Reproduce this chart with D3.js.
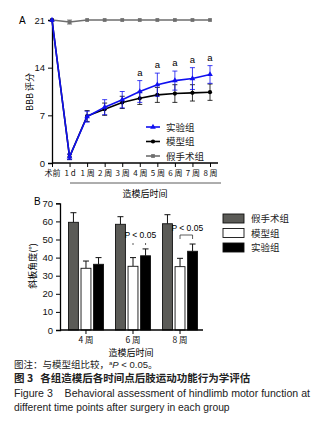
<!DOCTYPE html>
<html>
<head>
<meta charset="utf-8">
<script src="https://cdn.jsdelivr.net/npm/d3@7"></script>
<style>
  body { margin: 0; background: #fff; }
  svg { display: block; font-family: "Liberation Sans", Arial, "Noto Sans CJK SC", sans-serif; }
</style>
</head>
<body>
<div id="chart"></div>
<script>
// ---- Data: panel A (BBB score)
const timePoints = ["术前", "1 d", "1 周", "2 周", "3 周", "4 周", "5 周", "6 周", "7 周", "8 周"]
const shamScore = [21, 20.7, 21, 21, 21, 21, 21, 21, 21, 21]
const shamErr = [0, 0.3, 0, 0, 0, 0, 0, 0, 0, 0]
const modelScore = [21, 0.9, 6.9, 7.9, 8.9, 9.5, 10.0, 10.2, 10.3, 10.4]
const modelErr = [0, 0.4, 0.8, 0.9, 0.9, 0.9, 1.1, 1.3, 1.2, 1.2]
const expScore = [21, 0.9, 6.8, 8.2, 9.3, 10.5, 11.5, 12.1, 12.4, 13.0]
const expErr = [0, 0.4, 0.8, 1.1, 1.2, 1.6, 1.7, 1.4, 1.6, 1.3]
const sigMarks = ["", "", "", "", "", "a", "a", "a", "a", "a"]
const scoreTicks = [0, 7, 14, 21]

// ---- Data: panel B (inclined plane angle)
const weeks = ["4 周", "6 周", "8 周"]
const barGroups = ["假手术组", "模型组", "实验组"]
const shamAngle = [59.5, 58.4, 58.7]
const shamAngleErr = [5.3, 4.2, 5.0]
const modelAngle = [34.1, 35.2, 35.0]
const modelAngleErr = [4.0, 4.8, 4.6]
const expAngle = [36.3, 41.0, 43.5]
const expAngleErr = [3.7, 3.8, 4.0]
const angleTicks = [0, 10, 20, 30, 40, 50, 60, 70]

const cjk = '"Noto Sans CJK SC", sans-serif'
const svg = d3.select("#chart").append("svg")
    .attr("width", 331)
    .attr("height", 441)

// ================= Panel A =================
const xA = d3.scalePoint().domain(timePoints).range([52, 210])
const yA = d3.scaleLinear().domain([0, 21]).range([163, 20])

const gA = svg.append("g")

gA.append("text").attr("x", 19).attr("y", 24).style("font-size", "10px").text("A")

// y axis
gA.append("g")
    .attr("transform", "translate(52,0)")
    .call(d3.axisLeft(yA).tickValues(scoreTicks).tickSize(4).tickPadding(3))
    .call(g => g.selectAll("text").style("font-size", "9.5px").attr("fill", "#111"))
    .call(g => g.select(".domain").attr("stroke-width", 1.3))

// x axis
gA.append("g")
    .attr("transform", "translate(0,163)")
    .call(d3.axisBottom(xA).tickSize(4).tickPadding(3))
    .call(g => g.select(".domain").attr("d", "M52,0H218").attr("stroke-width", 1.3))
    .call(g => g.selectAll("text").style("font-size", "8px").style("font-family", cjk).attr("fill", "#111"))

gA.append("line").attr("x1", 70).attr("x2", 221).attr("y1", 183).attr("y2", 183)
    .attr("stroke", "#333").attr("stroke-width", 0.8)
gA.append("text").attr("x", 145).attr("y", 197).attr("text-anchor", "middle")
    .style("font-size", "9px").style("font-family", cjk).text("造模后时间")

gA.append("text")
    .attr("transform", "translate(33,92) rotate(-90)")
    .attr("text-anchor", "middle")
    .style("font-size", "9px").style("font-family", cjk)
    .text("BBB 评分")

const seriesA = [
  { name: "假手术组", vals: shamScore, err: shamErr, color: "#6e6e6e", sym: d3.symbolSquare, size: 14 },
  { name: "模型组", vals: modelScore, err: modelErr, color: "#000", sym: d3.symbolCircle, size: 14 },
  { name: "实验组", vals: expScore, err: expErr, color: "#1010f0", sym: d3.symbolTriangle, size: 14 }
]
const lineA = d3.line().x((d, i) => xA(timePoints[i])).y(d => yA(d))

seriesA.forEach(s => {
  const g = gA.append("g")
  // error bars
  s.vals.forEach((v, i) => {
    if (!s.err[i]) return
    const x = xA(timePoints[i])
    g.append("path")
      .attr("d", `M${x},${yA(v + s.err[i])}V${yA(v - s.err[i])}M${x - 2.5},${yA(v + s.err[i])}H${x + 2.5}M${x - 2.5},${yA(v - s.err[i])}H${x + 2.5}`)
      .attr("stroke", s.color).attr("stroke-width", 0.8).attr("fill", "none")
  })
  g.append("path").datum(s.vals).attr("d", lineA)
    .attr("fill", "none").attr("stroke", s.color).attr("stroke-width", 1.6)
  g.selectAll(".pt").data(s.vals).join("path")
    .attr("transform", (d, i) => `translate(${xA(timePoints[i])},${yA(d)})`)
    .attr("d", d3.symbol().type(s.sym).size(s.size))
    .attr("fill", s.color)
})

// significance marks
gA.selectAll(".sig").data(sigMarks).join("text")
    .attr("x", (d, i) => xA(timePoints[i]))
    .attr("y", (d, i) => yA(expScore[i] + expErr[i]) - 5)
    .attr("text-anchor", "middle")
    .style("font-size", "9.5px")
    .text(d => d)

// legend A
const legA = [seriesA[2], seriesA[1], seriesA[0]]
legA.forEach((s, i) => {
  const y = 127 + i * 14.5
  gA.append("line").attr("x1", 146).attr("x2", 160).attr("y1", y).attr("y2", y)
    .attr("stroke", s.color).attr("stroke-width", 1.6)
  gA.append("path").attr("transform", `translate(153,${y})`)
    .attr("d", d3.symbol().type(s.sym).size(s.size)).attr("fill", s.color)
  gA.append("text").attr("x", 166).attr("y", y + 3.5)
    .style("font-size", "9.5px").style("font-family", cjk).attr("fill", "#222").text(s.name)
})

// ================= Panel B =================
const x0 = d3.scaleBand().domain(weeks).range([60, 206]).paddingInner(0.255).paddingOuter(0.18)
const x1 = d3.scaleBand().domain(barGroups).range([0, x0.bandwidth()]).paddingInner(0.21)
const yB = d3.scaleLinear().domain([0, 70]).range([330, 203.3])

const gB = svg.append("g")
gB.append("text").attr("x", 34).attr("y", 205).style("font-size", "10px").text("B")

gB.append("g")
    .attr("transform", "translate(60,0)")
    .call(d3.axisLeft(yB).tickValues(angleTicks).tickSize(4).tickPadding(3))
    .call(g => g.selectAll("text").style("font-size", "9.5px").attr("fill", "#111"))
    .call(g => g.select(".domain").attr("stroke-width", 1.3))

gB.append("text")
    .attr("transform", "translate(36,266) rotate(-90)")
    .attr("text-anchor", "middle")
    .style("font-size", "9px").style("font-family", cjk)
    .text("斜板角度(°)")

const barColors = ["#5b5b57", "#fff", "#000"]
const barVals = [shamAngle, modelAngle, expAngle]
const barErrs = [shamAngleErr, modelAngleErr, expAngleErr]

barGroups.forEach((grp, k) => {
  weeks.forEach((w, i) => {
    const x = x0(w) + x1(grp)
    const bw = x1.bandwidth()
    const v = barVals[k][i]
    const e = barErrs[k][i]
    const cx = x + bw / 2
    gB.append("path")
      .attr("d", `M${cx},${yB(v)}V${yB(v + e)}M${cx - 3},${yB(v + e)}H${cx + 3}`)
      .attr("stroke", "#111").attr("stroke-width", 1).attr("fill", "none")
    gB.append("rect")
      .attr("x", x).attr("y", yB(v)).attr("width", bw).attr("height", yB(0) - yB(v))
      .attr("fill", barColors[k]).attr("stroke", "#111").attr("stroke-width", 0.9)
  })
})

gB.append("g")
    .attr("transform", "translate(0,330)")
    .call(d3.axisBottom(x0).tickSize(4).tickPadding(3))
    .call(g => g.select(".domain").attr("d", "M60,0H203").attr("stroke-width", 1.3))
    .call(g => g.selectAll("text").style("font-size", "8.5px").style("font-family", cjk).attr("fill", "#111"))

gB.append("text").attr("x", 131).attr("y", 356).attr("text-anchor", "middle")
    .style("font-size", "9px").style("font-family", cjk).text("造模后时间")

// P < 0.05 annotations (model vs experimental)
const sigWeeks = [{ w: "6 周", ty: 238, by: 242, bracket: false }, { w: "8 周", ty: 231, by: 235, bracket: true }]
sigWeeks.forEach(s => {
  const xa = x0(s.w) + x1("模型组") + x1.bandwidth() / 2
  const xb = x0(s.w) + x1("实验组") + x1.bandwidth() / 2
  gB.append("text").attr("x", (xa + xb) / 2 + 1).attr("y", s.ty).attr("text-anchor", "middle")
    .style("font-size", "8.5px").text("P < 0.05")
  const d = s.bracket
    ? `M${xa},${s.by + 4}V${s.by}H${xb}V${s.by + 4}`
    : `M${xa},${s.by + 1}V${s.by + 3}M${xb},${s.by + 1}V${s.by + 3}`
  gB.append("path").attr("d", d).attr("stroke", "#333").attr("stroke-width", 0.8).attr("fill", "none")
})

// legend B
barGroups.forEach((grp, k) => {
  const y = 214 + k * 14.5
  gB.append("rect").attr("x", 223).attr("y", y).attr("width", 21).attr("height", 9)
    .attr("fill", barColors[k]).attr("stroke", "#111").attr("stroke-width", 0.9)
  gB.append("text").attr("x", 251).attr("y", y + 8)
    .style("font-size", "9.5px").style("font-family", cjk).attr("fill", "#222").text(grp)
})

// ================= Caption =================
const cap = svg.append("g").attr("fill", "#222")
const note = cap.append("text").attr("x", 14).attr("y", 368)
    .style("font-size", "9.5px").style("font-family", cjk)
note.append("tspan").text("图注：与模型组比较，")
note.append("tspan").attr("baseline-shift", "super").style("font-size", "6px").style("font-family", "Liberation Sans").text("a")
note.append("tspan").style("font-style", "italic").style("font-family", "Liberation Sans").text("P")
note.append("tspan").style("font-family", "Liberation Sans").text(" < 0.05")
note.append("tspan").text("。")

cap.append("text").attr("x", 14).attr("y", 382)
    .style("font-size", "10.5px").style("font-family", cjk).style("font-weight", "bold")
    .style("white-space", "pre")
    .text("图 3   各组造模后各时间点后肢运动功能行为学评估")
cap.append("text").attr("x", 14).attr("y", 397)
    .style("font-size", "10.3px").style("white-space", "pre")
    .attr("textLength", 296).attr("lengthAdjust", "spacingAndGlyphs")
    .text("Figure 3    Behavioral assessment of hindlimb motor function at")
cap.append("text").attr("x", 14).attr("y", 411)
    .style("font-size", "10.3px")
    .text("different time points after surgery in each group")
</script>
</body>
</html>
